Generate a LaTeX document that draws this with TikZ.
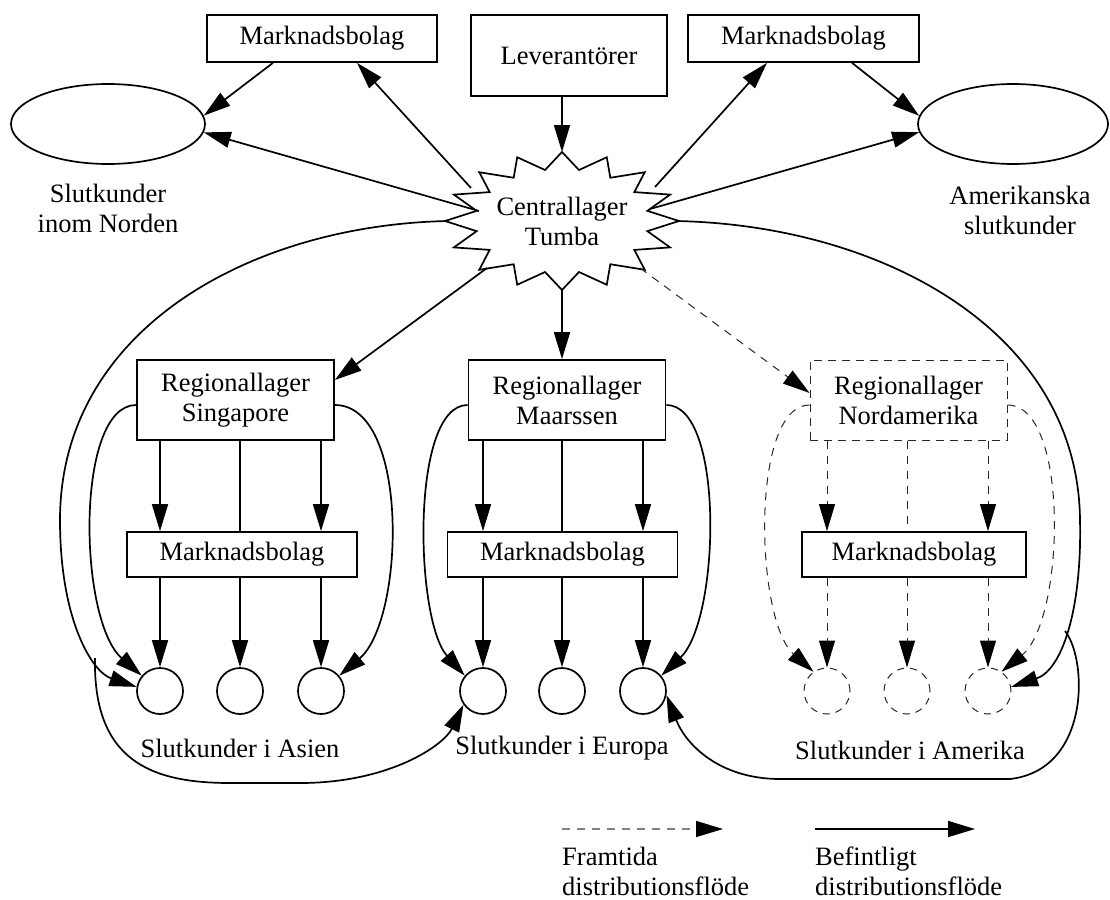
\documentclass[tikz,border=0pt]{standalone}
\usepackage{fontspec}
\setmainfont{Liberation Serif}
\usetikzlibrary{arrows.meta,calc,shapes.geometric}
\begin{document}
\begin{tikzpicture}[x=1pt,y=-1pt,
  every node/.style={font=\fontsize{26.5}{30}\selectfont, align=center, inner sep=0pt},
  box/.style={draw, line width=1.7pt, rectangle, minimum height=47pt},
  regbox/.style={box, minimum width=197pt, minimum height=80pt},
  futurebox/.style={draw, black!85, text=black, line width=1pt, dash pattern=on 8pt off 6pt,
    rectangle, minimum width=197pt, minimum height=80pt},
  customer/.style={draw, circle, line width=1.7pt, minimum size=46pt},
  futurecustomer/.style={draw, black!85, circle, line width=1pt, dash pattern=on 7pt off 6pt, minimum size=46pt},
  oval/.style={draw, ellipse, line width=1.7pt, minimum height=80pt},
  tip/.style={-{Triangle[length=27pt,width=16pt,black]}},
  flow/.style={line width=1.7pt, tip},
  plainflow/.style={line width=1.7pt},
  future/.style={black!85, line width=1pt, dash pattern=on 8pt off 7pt, tip},
  plainfuture/.style={black!85, line width=1pt, dash pattern=on 8pt off 7pt},
  legendfuture/.style={black!50, line width=1.4pt, dash pattern=on 8pt off 7pt, tip},
  starline/.style={line width=1.7pt, line join=miter}
]
\useasboundingbox (0,0) rectangle (1110,899);

% top row
\node[box, minimum width=230pt] (mbNW) at (322,38.5) {Marknadsbolag};
\node[box, minimum width=196pt, minimum height=81pt] (lev) at (569,55.5) {Leverantörer};
\node[box, minimum width=231pt] (mbNE) at (803.5,38.5) {Marknadsbolag};
\node[oval, minimum width=194pt] (ellL) at (108,124) {};
\node[oval, minimum width=190pt] (ellR) at (1013,124) {};
\node (labL) at (108,208) {Slutkunder\\inom Norden};
\node (labR) at (1020,210) {Amerikanska\\slutkunder};

% central warehouse (16-point star)
\node (tumba) at (562,221) {Centrallager\\Tumba};
\draw[starline, shift={(tumba.center)}] (0:117 and 69)
  \foreach \a in {0,22.5,...,337.5} { -- ({\a+11.25}:87 and 52) -- ({\a+22.5}:117 and 69) } -- cycle;

% regional warehouses
\node[regbox] (sing) at (235.5,400) {Regionallager\\Singapore};
\node[regbox] (maar) at (567,400) {Regionallager\\Maarssen};
\node[futurebox] (nord) at (908.5,400) {Regionallager\\Nordamerika};

% market companies
\node[box, minimum width=230pt, minimum height=45pt] (mbAs) at (242,554.5) {Marknadsbolag};
\node[box, minimum width=230pt, minimum height=45pt] (mbEu) at (562.5,554.5) {Marknadsbolag};
\node[box, minimum width=224pt, minimum height=45pt] (mbAm) at (914,554.5) {Marknadsbolag};

% end customers
\node[customer] (a1) at (160,691) {};
\node[customer] (a2) at (240,691) {};
\node[customer] (a3) at (321,691) {};
\node[customer] (e1) at (483,691) {};
\node[customer] (e2) at (562,691) {};
\node[customer] (e3) at (643,691) {};
\node[futurecustomer] (m1) at (827,691) {};
\node[futurecustomer] (m2) at (907,691) {};
\node[futurecustomer] (m3) at (988,691) {};
\node (labA) at (240,748) {Slutkunder i Asien};
\node (labE) at (562,748) {Slutkunder i Europa};
\node (labM) at (910,750) {Slutkunder i Amerika};

% legend
\coordinate (fs) at (562,829);
\coordinate (fe) at (723,829);
\coordinate (bs) at (815,829);
\coordinate (be) at (975,829);
\node[anchor=west, align=left] (legF) at (562,871) {Framtida\\distributionsflöde};
\node[anchor=west, align=left] (legB) at (815,871) {Befintligt\\distributionsflöde};
\draw[legendfuture] (fs) -- (fe);
\draw[flow] (bs) -- (be);

% flows at the top
\draw[flow] ($(mbNW.south)+(-49,0)$) -- (ellL.5);
\draw[flow] ($(tumba)+(-91,-33)$) -- ($(mbNW.south)+(35,0)$);
\draw[flow] ($(tumba)+(-83,-10)$) -- (ellL.-5);
\draw[flow] (lev.south -| tumba) -- ($(tumba)+(0,-69)$);
\draw[flow] ($(tumba)+(93,-34)$) -- ($(mbNE.south)+(-36.5,0)$);
\draw[flow] ($(mbNE.south)+(48.5,0)$) -- (ellR.175);
\draw[flow] ($(tumba)+(88,-12)$) -- (ellR.185);

% central to regional
\draw[flow] ($(tumba)+(-75,47)$) -- ($(sing.east)+(0,-20)$);
\draw[flow] ($(tumba)+(0,69)$) -- (maar.north -| tumba);
\draw[future] ($(tumba)+(78,47)$) -- ($(nord.west)+(0,-7)$);

% direct deliveries from the central warehouse
\coordinate (brL) at (95,658);
\coordinate (brR) at (1065,631);
\draw[flow] ($(tumba)+(-114,0)$) .. controls (250,225) and (60,330) .. (60,520)
  .. controls (60,620) and (92,672) .. (a1.170);
\draw[flow] (brL) .. controls (93,760) and (150,783) .. (230,783) -- (300,783)
  .. controls (390,783) and (444,745) .. (e1.215);
\draw[flow] ($(tumba)+(114,0)$) .. controls (880,225) and (1078,330) .. (1080,520)
  .. controls (1082,610) and (1062,670) .. (m3.10);
\draw[flow] (brR) .. controls (1088,660) and (1090,770) .. (1010,779) -- (780,779)
  .. controls (720,779) and (686,745) .. (e3.-10);

% Asia
\draw[flow] ($(sing.west)+(0,5)$) .. controls (75,405) and (78,620) .. (a1.140);
\draw[flow] ($(sing.east)+(0,5)$) .. controls (410,405) and (405,620) .. (a3.40);
\draw[flow] (sing.south -| a1) -- (mbAs.north -| a1);
\draw[plainflow] (sing.south -| a2) -- (mbAs.north -| a2);
\draw[flow] (sing.south -| a3) -- (mbAs.north -| a3);
\foreach \c in {a1,a2,a3} \draw[flow] (mbAs.south -| \c) -- (\c);

% Europe
\draw[flow] ($(maar.west)+(0,5)$) .. controls (410,405) and (415,620) .. (e1.140);
\draw[flow] ($(maar.east)+(0,5)$) .. controls (725,405) and (720,620) .. (e3.40);
\draw[flow] (maar.south -| e1) -- (mbEu.north -| e1);
\draw[plainflow] (maar.south -| e2) -- (mbEu.north -| e2);
\draw[flow] (maar.south -| e3) -- (mbEu.north -| e3);
\foreach \c in {e1,e2,e3} \draw[flow] (mbEu.south -| \c) -- (\c);

% America (planned)
\draw[future] ($(nord.west)+(0,5)$) .. controls (750,405) and (755,620) .. (m1.125);
\draw[future] ($(nord.east)+(0,5)$) .. controls (1070,405) and (1065,620) .. (m3.55);
\draw[future] (nord.south -| m1) -- (mbAm.north -| m1);
\draw[plainfuture] (nord.south -| m2) -- (mbAm.north -| m2);
\draw[future] (nord.south -| m3) -- (mbAm.north -| m3);
\foreach \c in {m1,m2,m3} \draw[future] (mbAm.south -| \c) -- (\c);
\end{tikzpicture}
\end{document}
